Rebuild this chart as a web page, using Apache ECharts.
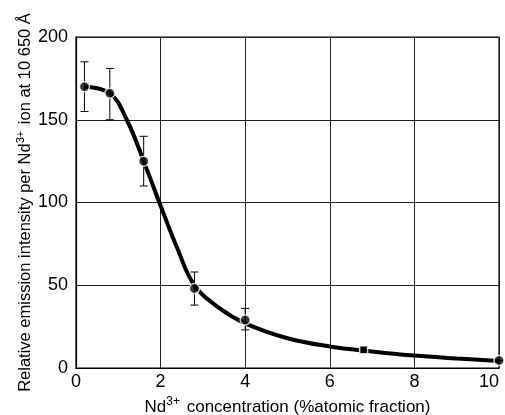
<!DOCTYPE html>
<html>
<head>
<meta charset="utf-8">
<script src="https://cdn.jsdelivr.net/npm/echarts@6/dist/echarts.min.js"></script>
<style>
  html, body { margin: 0; padding: 0; background: #fff; }
  #chart { width: 505px; height: 415px; }
</style>
</head>
<body>
<div id="chart"></div>
<script>
// measured points (Nd3+ concentration, relative intensity)
var conc = [0.2, 0.8, 1.6, 2.8, 4.0, 6.8, 10];
var intensity = [170, 166, 125, 48, 29, 11, 4.5];
var errLow = [155, 150, 110, 38, 23, 9.5, 4.5];
var errHigh = [185, 181, 140, 58, 36, 12.5, 4.5];
var markerShapes = ['circle', 'circle', 'circle', 'circle', 'circle', 'rect', 'circle'];

// hand-drawn trend curve
var curveX = [0.2, 0.8, 1.2, 1.6, 2.0, 2.4, 2.8, 3.4, 4.0, 5.0, 6.0, 7.0, 8.0, 9.0, 10];
var curveY = [170, 166, 150, 125, 98, 72, 50, 36, 27, 18, 13, 10, 7.5, 5.8, 4.3];

var xTicks = ['0', '2', '4', '6', '8', '10'];

var font = 'Liberation Sans';

var pointData = conc.map(function (x, i) {
    return {
        value: [x, intensity[i]],
        symbol: markerShapes[i],
        symbolSize: markerShapes[i] === 'rect' ? 8 : 10
    };
});
var errData = conc.map(function (x, i) { return [x, errLow[i], errHigh[i]]; });
var curveData = curveX.map(function (x, i) { return [x, curveY[i]]; });

var chart = echarts.init(document.getElementById('chart'));
chart.setOption({
    animation: false,
    backgroundColor: '#fff',
    grid: {
        left: 76, right: 6, top: 37, bottom: 47,
        outerBoundsMode: 'none',
        containLabel: false,
        show: true, borderColor: '#000', borderWidth: 1.2
    },
    xAxis: {
        type: 'value', min: 0, max: 10, interval: 2,
        name: 'Nd{sup|3+} concentration (%atomic fraction)',
        nameLocation: 'middle', nameGap: 28, nameMoveOverlap: false,
        nameTextStyle: {
            fontFamily: font, fontSize: 17, color: '#000',
            rich: { sup: { fontSize: 12, fontFamily: font, color: '#000', padding: [0, 2, 10, 0] } }
        },
        axisLine: { lineStyle: { color: '#000', width: 1.2 } },
        axisTick: { show: false },
        axisLabel: {
            fontFamily: font, fontSize: 18, color: '#000', margin: 5,
            alignMaxLabel: 'right',
            formatter: function (v) { return xTicks[v / 2]; }
        },
        splitLine: { show: true, lineStyle: { color: '#222', width: 1 } }
    },
    yAxis: {
        type: 'value', min: 0, max: 200, interval: 50,
        name: 'Relative emission intensity per Nd{sup|3+} ion at 10 650 Å',
        nameLocation: 'middle', nameGap: 40, nameRotate: 90, nameMoveOverlap: false,
        nameTextStyle: {
            fontFamily: font, fontSize: 16.5, color: '#000',
            rich: { sup: { fontSize: 11, fontFamily: font, color: '#000', padding: [0, 2, 10, 0] } }
        },
        axisLine: { show: true, lineStyle: { color: '#000', width: 1.2 } },
        axisTick: { show: false },
        axisLabel: { fontFamily: font, fontSize: 18, color: '#000', margin: 8 },
        splitLine: { show: true, lineStyle: { color: '#222', width: 1 } }
    },
    series: [
        {
            type: 'line',
            data: curveData,
            smooth: 0.4,
            showSymbol: false,
            lineStyle: { color: '#000', width: 4 },
            z: 2
        },
        {
            type: 'custom',
            data: errData,
            z: 3,
            renderItem: function (params, api) {
                var x = api.value(0);
                var lo = api.coord([x, api.value(1)]);
                var hi = api.coord([x, api.value(2)]);
                var cap = 4;
                var style = { stroke: '#000', lineWidth: 1 };
                return {
                    type: 'group',
                    children: [
                        { type: 'line', shape: { x1: lo[0], y1: lo[1], x2: hi[0], y2: hi[1] }, style: style },
                        { type: 'line', shape: { x1: lo[0] - cap, y1: lo[1], x2: lo[0] + cap, y2: lo[1] }, style: style },
                        { type: 'line', shape: { x1: hi[0] - cap, y1: hi[1], x2: hi[0] + cap, y2: hi[1] }, style: style }
                    ]
                };
            }
        },
        {
            type: 'scatter',
            data: pointData,
            itemStyle: { color: '#000', borderColor: '#fff', borderWidth: 1.5 },
            z: 4
        }
    ]
});
</script>
</body>
</html>
